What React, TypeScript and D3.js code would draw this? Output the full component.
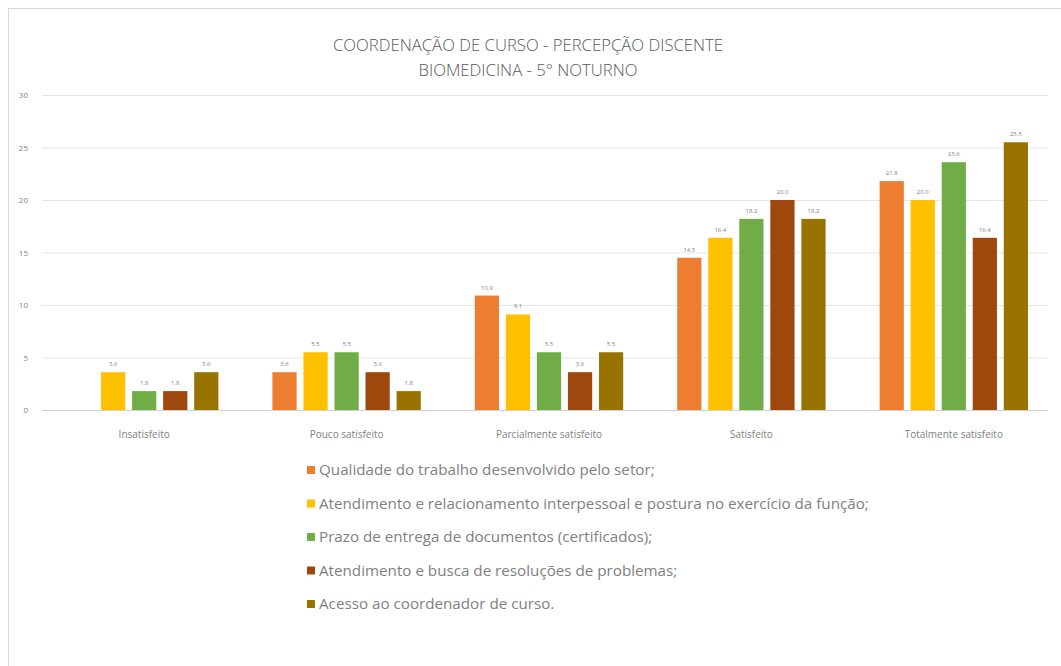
import * as d3 from "d3";
import { useRef, useEffect } from "react";

const categories = [
  "Insatisfeito",
  "Pouco satisfeito",
  "Parcialmente satisfeito",
  "Satisfeito",
  "Totalmente satisfeito",
];

const seriesNames = [
  "Qualidade do trabalho desenvolvido pelo setor;",
  "Atendimento e relacionamento interpessoal e postura no exercício da função;",
  "Prazo de entrega de documentos (certificados);",
  "Atendimento e busca de resoluções de problemas;",
  "Acesso ao coordenador de curso.",
];

const qualidade = [0, 3.6, 10.9, 14.5, 21.8];
const atendimentoRel = [3.6, 5.5, 9.1, 16.4, 20.0];
const prazo = [1.8, 5.5, 5.5, 18.2, 23.6];
const atendimentoBusca = [1.8, 3.6, 3.6, 20.0, 16.4];
const acesso = [3.6, 1.8, 5.5, 18.2, 25.5];

const yTicks = [0, 5, 10, 15, 20, 25, 30];

const colors = ["#ED7D31", "#FFC000", "#70AD47", "#9E480E", "#997300"];

export default function App() {
  const ref = useRef(null);

  useEffect(() => {
    const svg = d3.select(ref.current);
    svg.selectAll("*").remove();

    const values = [qualidade, atendimentoRel, prazo, atendimentoBusca, acesso];
    const font = "'Open Sans', 'DejaVu Sans', sans-serif";

    svg
      .append("rect")
      .attr("x", 8.5)
      .attr("y", 8.5)
      .attr("width", 1061)
      .attr("height", 670)
      .attr("fill", "#fff")
      .attr("stroke", "#d9d9d9");

    const title = svg
      .append("text")
      .attr("text-anchor", "middle")
      .attr("font-family", font)
      .attr("font-size", 16.7)
      .attr("font-weight", 300)
      .attr("fill", "#595959");
    title.append("tspan").attr("x", 528).attr("y", 51).text("COORDENAÇÃO DE CURSO - PERCEPÇÃO DISCENTE");
    title.append("tspan").attr("x", 528).attr("y", 76).text("BIOMEDICINA - 5° NOTURNO");

    const y = d3.scaleLinear().domain([0, 30]).range([410, 95]);
    const x0 = d3.scaleBand().domain(categories).range([43, 1055]);
    const x1 = d3
      .scaleBand()
      .domain(seriesNames)
      .range([0, x0.bandwidth()])
      .paddingInner(0.22)
      .paddingOuter(0.87);

    svg
      .append("g")
      .selectAll("line")
      .data(yTicks)
      .enter()
      .append("line")
      .attr("x1", 42)
      .attr("x2", 1048)
      .attr("y1", (d) => y(d) + 0.5)
      .attr("y2", (d) => y(d) + 0.5)
      .attr("stroke", (d) => (d === 0 ? "#d0d0d0" : "#e6e6e6"))
      .attr("stroke-width", 1);

    svg
      .append("g")
      .selectAll("text")
      .data(yTicks)
      .enter()
      .append("text")
      .attr("x", 28)
      .attr("y", (d) => y(d) + 3)
      .attr("text-anchor", "end")
      .attr("font-family", font)
      .attr("font-size", 8)
      .attr("fill", "#7f7f7f")
      .text((d) => d);

    seriesNames.forEach((s, si) => {
      const g = svg.append("g");
      const data = values[si].map((v, ci) => ({ cat: categories[ci], v }));
      g.selectAll("rect")
        .data(data)
        .enter()
        .append("rect")
        .attr("x", (d) => x0(d.cat) + x1(s))
        .attr("y", (d) => y(d.v))
        .attr("width", x1.bandwidth())
        .attr("height", (d) => y(0) - y(d.v))
        .attr("fill", colors[si]);
      g.selectAll("text")
        .data(data.filter((d) => d.v > 0))
        .enter()
        .append("text")
        .attr("x", (d) => x0(d.cat) + x1(s) + x1.bandwidth() / 2)
        .attr("y", (d) => y(d.v) - 6)
        .attr("text-anchor", "middle")
        .attr("font-family", font)
        .attr("font-size", 6)
        .attr("fill", "#7f7f7f")
        .text((d) => d.v.toFixed(1));
    });

    svg
      .append("g")
      .selectAll("text")
      .data(categories)
      .enter()
      .append("text")
      .attr("x", (d) => x0(d) + x0.bandwidth() / 2)
      .attr("y", 438)
      .attr("text-anchor", "middle")
      .attr("font-family", font)
      .attr("font-size", 10)
      .attr("fill", "#7f7f7f")
      .text((d) => d);

    const legend = svg
      .append("g")
      .selectAll("g")
      .data(seriesNames)
      .enter()
      .append("g")
      .attr("transform", (d, i) => `translate(307, ${470 + i * 33.5})`);
    legend
      .append("rect")
      .attr("x", 0)
      .attr("y", -4)
      .attr("width", 8)
      .attr("height", 8)
      .attr("fill", (d, i) => colors[i]);
    legend
      .append("text")
      .attr("x", 12)
      .attr("y", 5)
      .attr("font-family", font)
      .attr("font-size", 15.2)
      .attr("fill", "#7f7f7f")
      .text((d) => d);
  }, []);

  return (
    <svg
      ref={ref}
      width={1061}
      height={666}
      style={{ position: "absolute", left: 0, top: 0, background: "#fff" }}
    ></svg>
  );
}
